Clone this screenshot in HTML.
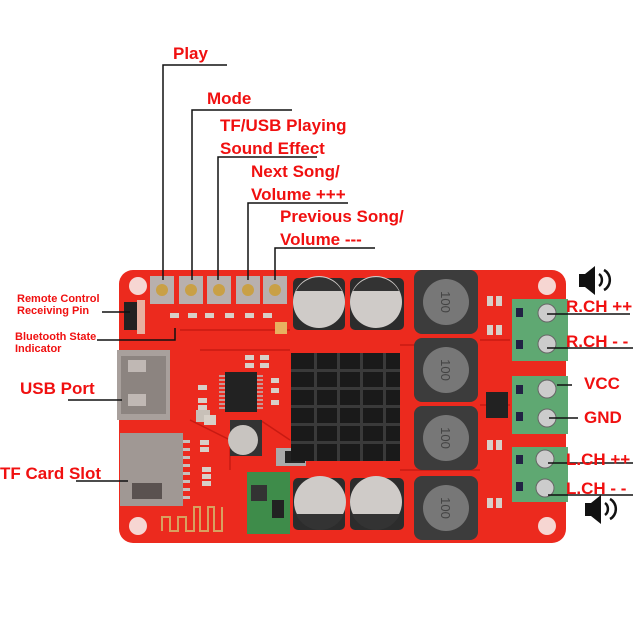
<!DOCTYPE html>
<html><head><meta charset="utf-8"><style>
html,body{margin:0;padding:0;background:#fff;width:640px;height:640px;overflow:hidden}
svg{display:block}
text{font-family:"Liberation Sans",sans-serif;font-weight:bold;fill:#f01010}
text.d{fill:#444;font-weight:normal}
</style></head><body>
<svg width="640" height="640" viewBox="0 0 640 640">
<rect x="119" y="270" width="447" height="273" rx="14" fill="#ec2a1e"/>
<circle cx="138" cy="286" r="9" fill="#f6d6d2"/>
<circle cx="547" cy="286" r="9" fill="#f6d6d2"/>
<circle cx="138" cy="526" r="9" fill="#f6d6d2"/>
<circle cx="547" cy="526" r="9" fill="#f6d6d2"/>
<g stroke="#c81a12" stroke-width="1.5" fill="none">
<path d="M180 330 L290 330 M200 350 L290 350 M190 420 L230 440 L230 470 M260 420 L290 440 M400 345 L470 345 M400 470 L480 470 M480 340 L510 340 M480 405 L510 405"/>
</g>
<g>
<rect x="150" y="276" width="24" height="28" fill="#b8b0ae"/><circle cx="162" cy="290" r="6" fill="#c9a046"/>
<rect x="179" y="276" width="24" height="28" fill="#b8b0ae"/><circle cx="191" cy="290" r="6" fill="#c9a046"/>
<rect x="207" y="276" width="24" height="28" fill="#b8b0ae"/><circle cx="219" cy="290" r="6" fill="#c9a046"/>
<rect x="236" y="276" width="24" height="28" fill="#b8b0ae"/><circle cx="248" cy="290" r="6" fill="#c9a046"/>
<rect x="263" y="276" width="24" height="28" fill="#b8b0ae"/><circle cx="275" cy="290" r="6" fill="#c9a046"/>
</g>
<rect x="124" y="302" width="14" height="28" fill="#222"/>
<rect x="137" y="300" width="8" height="34" fill="#e8b0a0"/>
<g fill="#d8cfc8">
<rect x="170" y="313" width="9" height="5"/><rect x="188" y="313" width="9" height="5"/><rect x="205" y="313" width="9" height="5"/><rect x="225" y="313" width="9" height="5"/><rect x="245" y="313" width="9" height="5"/><rect x="263" y="313" width="9" height="5"/>
<rect x="245" y="355" width="9" height="5"/><rect x="260" y="355" width="9" height="5"/><rect x="245" y="363" width="9" height="5"/><rect x="260" y="363" width="9" height="5"/>
<rect x="198" y="385" width="9" height="5"/><rect x="198" y="398" width="9" height="5"/><rect x="198" y="405" width="9" height="5"/>
<rect x="271" y="378" width="8" height="5"/><rect x="271" y="388" width="8" height="5"/><rect x="271" y="400" width="8" height="5"/>
<rect x="200" y="440" width="9" height="5"/><rect x="200" y="447" width="9" height="5"/>
<rect x="202" y="467" width="9" height="5"/><rect x="202" y="474" width="9" height="5"/><rect x="202" y="481" width="9" height="5"/>
<rect x="196" y="410" width="14" height="12" fill="#c8c0b8"/>
<rect x="487" y="296" width="6" height="10"/><rect x="496" y="296" width="6" height="10"/><rect x="487" y="325" width="6" height="10"/><rect x="496" y="325" width="6" height="10"/>
<rect x="487" y="440" width="6" height="10"/><rect x="496" y="440" width="6" height="10"/><rect x="487" y="498" width="6" height="10"/><rect x="496" y="498" width="6" height="10"/>
</g>
<rect x="275" y="322" width="12" height="12" fill="#e8b060"/>
<rect x="117" y="350" width="53" height="70" fill="#a8a09c"/>
<rect x="121" y="356" width="45" height="58" fill="#8c8480"/>
<rect x="128" y="360" width="18" height="12" fill="#c0b8b4"/><rect x="128" y="394" width="18" height="12" fill="#c0b8b4"/>
<rect x="120" y="433" width="63" height="73" fill="#a09894"/>
<rect x="132" y="483" width="30" height="16" fill="#5a5250"/>
<g fill="#c8c0bc"><rect x="183" y="440" width="7" height="3"/><rect x="183" y="448" width="7" height="3"/><rect x="183" y="456" width="7" height="3"/><rect x="183" y="464" width="7" height="3"/><rect x="183" y="472" width="7" height="3"/><rect x="183" y="480" width="7" height="3"/><rect x="183" y="488" width="7" height="3"/><rect x="183" y="496" width="7" height="3"/></g>
<path d="M162 531 V517 H170 V531 H178 V517 H186 V531 H194 V507 H200 V531 H208 V507 H214 V531 H222 V507" stroke="#d8a060" stroke-width="2" fill="none"/>
<rect x="225" y="372" width="32" height="40" fill="#222"/>
<g stroke="#bbb" stroke-width="1.5"><path d="M219 376h6M219 380h6M219 384h6M219 388h6M219 392h6M219 396h6M219 400h6M219 404h6M219 408h6M257 376h6M257 380h6M257 384h6M257 388h6M257 392h6M257 396h6M257 400h6M257 404h6M257 408h6"/></g>
<rect x="204" y="415" width="12" height="10" fill="#d8d0c8"/>
<rect x="230" y="420" width="32" height="36" fill="#333"/>
<circle cx="243" cy="440" r="15" fill="#c8c4c0"/>
<rect x="276" y="448" width="30" height="18" fill="#aaa"/><rect x="285" y="451" width="20" height="12" fill="#222"/>
<rect x="247" y="472" width="43" height="62" fill="#3e8c4a"/>
<rect x="251" y="485" width="16" height="16" fill="#333"/>
<rect x="272" y="500" width="12" height="18" fill="#222"/>
<rect x="291" y="353" width="109" height="108" fill="#1a1a1a"/>
<g fill="#3a3a3a"><rect x="291" y="369" width="109" height="3"/><rect x="291" y="387" width="109" height="3"/><rect x="291" y="405" width="109" height="3"/><rect x="291" y="423" width="109" height="3"/><rect x="291" y="441" width="109" height="3"/>
<rect x="314" y="353" width="3" height="108"/><rect x="337" y="353" width="3" height="108"/><rect x="360" y="353" width="3" height="108"/><rect x="383" y="353" width="3" height="108"/></g>
<g>
<rect x="293" y="278" width="52" height="52" rx="5" fill="#2c2c2c"/><circle cx="319" cy="302" r="26" fill="#cfcbc8"/><path d="M296 291 A26 26 0 0 1 342 291 Z" fill="#333"/>
<rect x="350" y="278" width="54" height="52" rx="5" fill="#2c2c2c"/><circle cx="376" cy="302" r="26" fill="#cfcbc8"/><path d="M353 291 A26 26 0 0 1 399 291 Z" fill="#333"/>
<rect x="293" y="478" width="52" height="52" rx="5" fill="#2c2c2c"/><circle cx="320" cy="502" r="26" fill="#cfcbc8"/><path d="M296 514 A26 26 0 0 0 344 514 Z" fill="#333"/>
<rect x="350" y="478" width="54" height="52" rx="5" fill="#2c2c2c"/><circle cx="376" cy="502" r="26" fill="#cfcbc8"/><path d="M352 514 A26 26 0 0 0 400 514 Z" fill="#333"/>
</g>
<g>
<rect x="414" y="270" width="64" height="64" rx="8" fill="#3c3c3c"/><circle cx="446" cy="302" r="23" fill="#777"/>
<rect x="414" y="338" width="64" height="64" rx="8" fill="#3c3c3c"/><circle cx="446" cy="370" r="23" fill="#777"/>
<rect x="414" y="406" width="64" height="64" rx="8" fill="#3c3c3c"/><circle cx="446" cy="438" r="23" fill="#777"/>
<rect x="414" y="476" width="64" height="64" rx="8" fill="#3c3c3c"/><circle cx="446" cy="508" r="23" fill="#777"/>
</g>
<g font-size="13">
<text class="d" x="446" y="307" text-anchor="middle" transform="rotate(90 446 302)">100</text>
<text class="d" x="446" y="375" text-anchor="middle" transform="rotate(90 446 370)">100</text>
<text class="d" x="446" y="443" text-anchor="middle" transform="rotate(90 446 438)">100</text>
<text class="d" x="446" y="513" text-anchor="middle" transform="rotate(90 446 508)">100</text>
</g>
<rect x="486" y="392" width="22" height="26" fill="#222"/>
<g>
<rect x="512" y="299" width="56" height="62" fill="#5fa872"/><rect x="516" y="308" width="7" height="9" fill="#224"/><rect x="516" y="340" width="7" height="9" fill="#224"/>
<circle cx="547" cy="313" r="9" fill="#ccc" stroke="#666"/><circle cx="547" cy="344" r="9" fill="#ccc" stroke="#666"/>
<rect x="512" y="376" width="56" height="58" fill="#5fa872"/><rect x="516" y="385" width="7" height="9" fill="#224"/><rect x="516" y="412" width="7" height="9" fill="#224"/>
<circle cx="547" cy="389" r="9" fill="#ccc" stroke="#666"/><circle cx="547" cy="418" r="9" fill="#ccc" stroke="#666"/>
<rect x="512" y="447" width="56" height="55" fill="#5fa872"/><rect x="516" y="455" width="7" height="9" fill="#224"/><rect x="516" y="482" width="7" height="9" fill="#224"/>
<circle cx="545" cy="459" r="9" fill="#ccc" stroke="#666"/><circle cx="545" cy="488" r="9" fill="#ccc" stroke="#666"/>
</g>
<g stroke="#111" stroke-width="1.5" fill="none">
<path d="M163 280 V65 H227"/>
<path d="M192 280 V110 H292"/>
<path d="M218 280 V157 H317"/>
<path d="M248 280 V203 H348"/>
<path d="M275 280 V248 H375"/>
<path d="M102 312 H130"/>
<path d="M97 340 H175 V328"/>
<path d="M68 400 H122"/>
<path d="M76 481 H128"/>
<path d="M547 314 H630"/><path d="M547 348 H633"/>
<path d="M557 385 H572"/><path d="M549 418 H578"/>
<path d="M548 463 H633"/><path d="M548 495 H633"/>
</g>
<g fill="#111">
<path d="M579 274 h6 l10 -8 v29 l-10 -8 h-6 z"/>
<path d="M599 274 a6 7 0 0 1 0 12" stroke="#111" stroke-width="2.5" fill="none"/>
<path d="M604 270 a10 11 0 0 1 0 20" stroke="#111" stroke-width="2.5" fill="none"/>
<path d="M585 503 h6 l10 -8 v29 l-10 -8 h-6 z"/>
<path d="M605 503 a6 7 0 0 1 0 12" stroke="#111" stroke-width="2.5" fill="none"/>
<path d="M610 499 a10 11 0 0 1 0 20" stroke="#111" stroke-width="2.5" fill="none"/>
</g>
<text x="173" y="59" font-size="17">Play</text>
<text x="207" y="104" font-size="17">Mode</text>
<text x="220" y="131" font-size="17">TF/USB Playing</text>
<text x="220" y="154" font-size="17">Sound Effect</text>
<text x="251" y="177" font-size="17">Next Song/</text>
<text x="251" y="200" font-size="17">Volume +++</text>
<text x="280" y="222" font-size="17">Previous Song/</text>
<text x="280" y="245" font-size="17">Volume ---</text>
<text x="17" y="302" font-size="11">Remote Control</text>
<text x="17" y="314" font-size="11">Receiving Pin</text>
<text x="15" y="340" font-size="11">Bluetooth State</text>
<text x="15" y="352" font-size="11">Indicator</text>
<text x="20" y="394" font-size="17">USB Port</text>
<text x="0" y="479" font-size="17">TF Card Slot</text>
<text x="566" y="312" font-size="17">R.CH ++</text>
<text x="566" y="347" font-size="17">R.CH - -</text>
<text x="584" y="389" font-size="17">VCC</text>
<text x="584" y="423" font-size="17">GND</text>
<text x="566" y="465" font-size="17">L.CH ++</text>
<text x="566" y="494" font-size="17">L.CH - -</text>
</svg>
</body></html>
